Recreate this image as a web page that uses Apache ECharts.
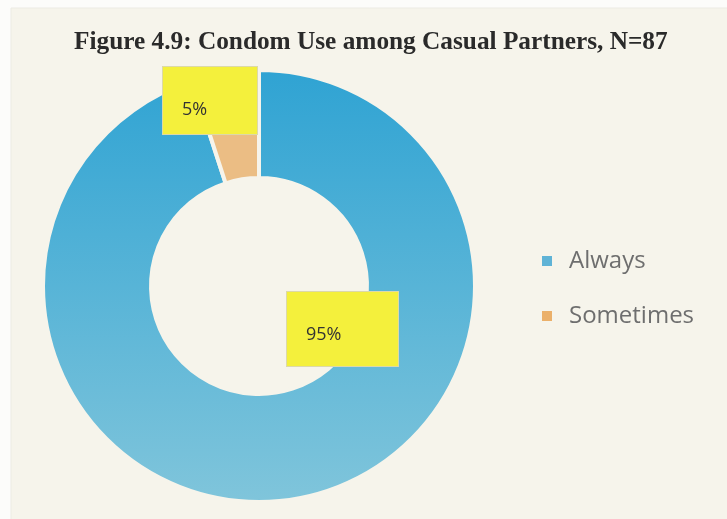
<!DOCTYPE html>
<html>
<head>
<meta charset="utf-8">
<title>Condom Use among Casual Partners</title>
<script src="https://cdn.jsdelivr.net/npm/echarts@6/dist/echarts.min.js"></script>
<style>
  html, body { margin: 0; padding: 0; background: #fcfcfa; }
  #chart { width: 727px; height: 519px; }
</style>
</head>
<body>
<div id="chart"></div>
<script>
// Survey responses: condom use among casual partners (N = 87)
const categories = ['Always', 'Sometimes'];
const percentages = [95, 5];
const titleText = 'Figure 4.9: Condom Use among Casual Partners, N=87';

// Donut geometry and colours
const CENTER = [259, 286];
const RADII = [108, 216];
const PANEL_BG = '#f6f4eb';
const sliceColors = [
  new echarts.graphic.LinearGradient(0, 0, 0, 1, [
    { offset: 0, color: '#2fa3d3' },
    { offset: 1, color: '#80c5db' }
  ]),
  '#ebbd84'
];
const legendColors = ['#5fb3d6', '#ebb06a'];

// Callout boxes sit at fixed offsets from the donut centre
const labelOffsets = [[28, 6], [-96, -219]];
// Box sizes and inner padding of each callout
const labelBoxes = [
  { width: 92, height: 40, padding: [34, 0, 0, 19] },
  { width: 75, height: 33, padding: [34, 0, 0, 19] }
];

const chart = echarts.init(document.getElementById('chart'), null, { renderer: 'canvas' });

chart.setOption({
  backgroundColor: '#fcfcfa',
  animation: false,
  graphic: [{
    type: 'rect',
    z: -10,
    shape: { x: 11, y: 8, width: 727, height: 519 },
    style: { fill: PANEL_BG, stroke: '#ecebe4', lineWidth: 1 }
  }],
  title: {
    text: titleText,
    left: 69,
    top: 25,
    textStyle: {
      fontFamily: 'Liberation Serif',
      fontWeight: 'bold',
      fontSize: 25.3,
      color: '#2a2a2a'
    }
  },
  legend: {
    orient: 'vertical',
    left: 535,
    top: 244,
    itemWidth: 12,
    itemHeight: 12,
    itemGap: 31,
    icon: 'rect',
    data: categories.map((name, i) => ({
      name,
      itemStyle: { color: legendColors[i] }
    })),
    textStyle: {
      fontFamily: 'Open Sans',
      fontSize: 24,
      color: '#6e6e6e',
      padding: [0, 0, 0, 11]
    }
  },
  series: [{
    type: 'pie',
    center: CENTER,
    radius: RADII,
    startAngle: 90,
    clockwise: true,
    silent: true,
    data: categories.map((name, i) => ({
      name,
      value: percentages[i],
      itemStyle: { color: sliceColors[i] },
      label: labelBoxes[i]
    })),
    itemStyle: { borderColor: PANEL_BG, borderWidth: 4 },
    labelLine: { show: false },
    label: {
      show: true,
      formatter: '{c}%',
      fontFamily: 'Open Sans',
      fontSize: 18,
      lineHeight: 18,
      color: '#333333',
      backgroundColor: '#f4f03c',
      borderColor: '#dcd9a8',
      borderWidth: 1,
      align: 'left',
      verticalAlign: 'top'
    },
    labelLayout: function (params) {
      const off = labelOffsets[params.dataIndex];
      return {
        x: CENTER[0] + off[0],
        y: CENTER[1] + off[1],
        align: 'left',
        verticalAlign: 'top'
      };
    }
  }]
});
</script>
</body>
</html>
